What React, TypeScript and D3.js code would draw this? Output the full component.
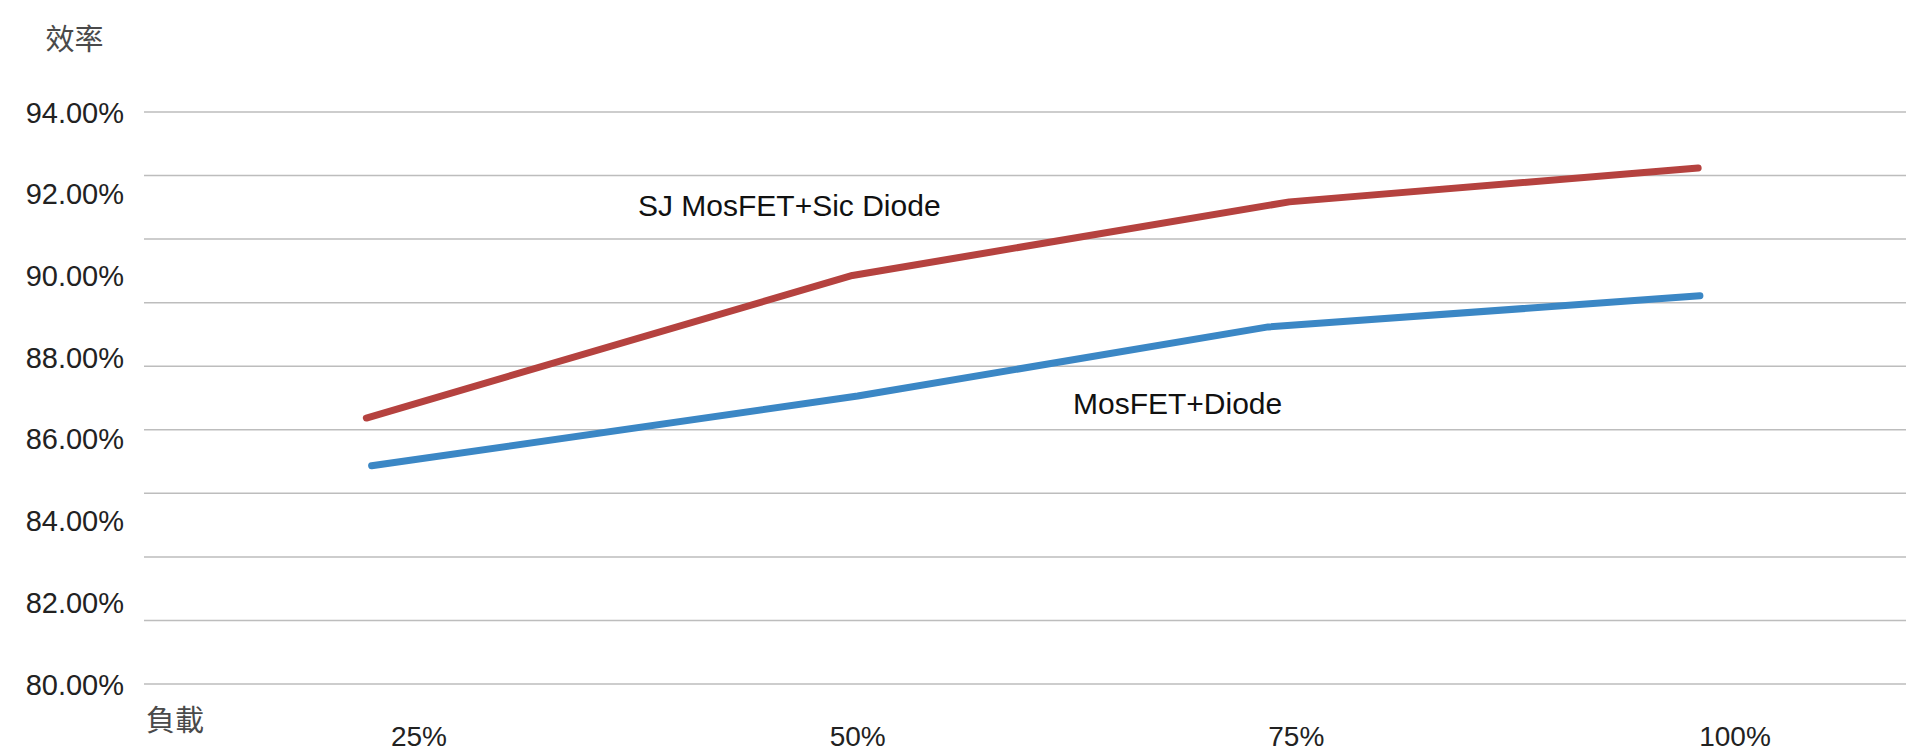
import React from "react";
import * as d3 from "d3";

// ---- data ----
const yTickLabels = [94, 92, 90, 88, 86, 84, 82, 80];
const xTickLabels = [25, 50, 75, 100];
const gridLineCount = 10;

const sicName = "SJ MosFET+Sic Diode";
const sicLoad = [22, 49.7, 74.6, 97.9];
const sicEff = [86.51, 90.0, 91.8, 92.63];

const diodeName = "MosFET+Diode";
const diodeLoad = [22.3, 50, 73.4, 98];
const diodeEff = [85.34, 87.05, 88.74, 89.5];

const yTitle = "效率";
const xTitle = "負載";

const W = 1906;
const H = 751;

export default function App() {
  const x = d3.scaleLinear().domain([25, 100]).range([419, 1735]);
  const y = d3.scaleLinear().domain([80, 94]).range([684, 112]);
  const yGrid = d3.scaleLinear().domain([0, gridLineCount - 1]).range([684, 112]);

  const line = d3
    .line<[number, number]>()
    .x((d) => x(d[0]))
    .y((d) => y(d[1]))
    .curve(d3.curveLinear);

  const sicPts = sicLoad.map((l, i) => [l, sicEff[i]] as [number, number]);
  const diodePts = diodeLoad.map((l, i) => [l, diodeEff[i]] as [number, number]);

  const numFont = "'Liberation Sans', Arial, Helvetica, sans-serif";
  const cjkFont = "'Noto Sans CJK TC', 'Noto Sans CJK SC', sans-serif";

  return (
    <svg
      width={W}
      height={H}
      style={{ position: "absolute", left: 0, top: 0, background: "#fff" }}
    >
      <rect x={0} y={0} width={W} height={H} fill="#fff" />
      {d3.range(gridLineCount).map((i) => (
        <line
          key={"g" + i}
          x1={144}
          x2={W}
          y1={yGrid(i)}
          y2={yGrid(i)}
          stroke="#bdbdbd"
          strokeWidth={1.5}
        />
      ))}
      {yTickLabels.map((v) => (
        <text
          key={"y" + v}
          x={124}
          y={y(v) + 10.5}
          textAnchor="end"
          fontFamily={numFont}
          fontSize={29}
          fill="#222"
        >
          {v.toFixed(2) + "%"}
        </text>
      ))}
      {xTickLabels.map((v) => (
        <text
          key={"x" + v}
          x={x(v)}
          y={746}
          textAnchor="middle"
          fontFamily={numFont}
          fontSize={28}
          fill="#222"
        >
          {v + "%"}
        </text>
      ))}
      <text x={74.5} y={50} textAnchor="middle" fontFamily={cjkFont} fontSize={29} fill="#4a4a4a">
        {yTitle}
      </text>
      <text x={175} y={731} textAnchor="middle" fontFamily={cjkFont} fontSize={29} fill="#4a4a4a">
        {xTitle}
      </text>
      <path
        d={line(sicPts) || ""}
        fill="none"
        stroke="#b5423f"
        strokeWidth={7}
        strokeLinecap="round"
        strokeLinejoin="round"
      />
      <path
        d={line(diodePts) || ""}
        fill="none"
        stroke="#3b87c5"
        strokeWidth={7}
        strokeLinecap="round"
        strokeLinejoin="round"
      />
      <text x={638} y={216} fontFamily={numFont} fontSize={30} fill="#111">
        {sicName}
      </text>
      <text x={1073} y={414} fontFamily={numFont} fontSize={30} fill="#111">
        {diodeName}
      </text>
    </svg>
  );
}
